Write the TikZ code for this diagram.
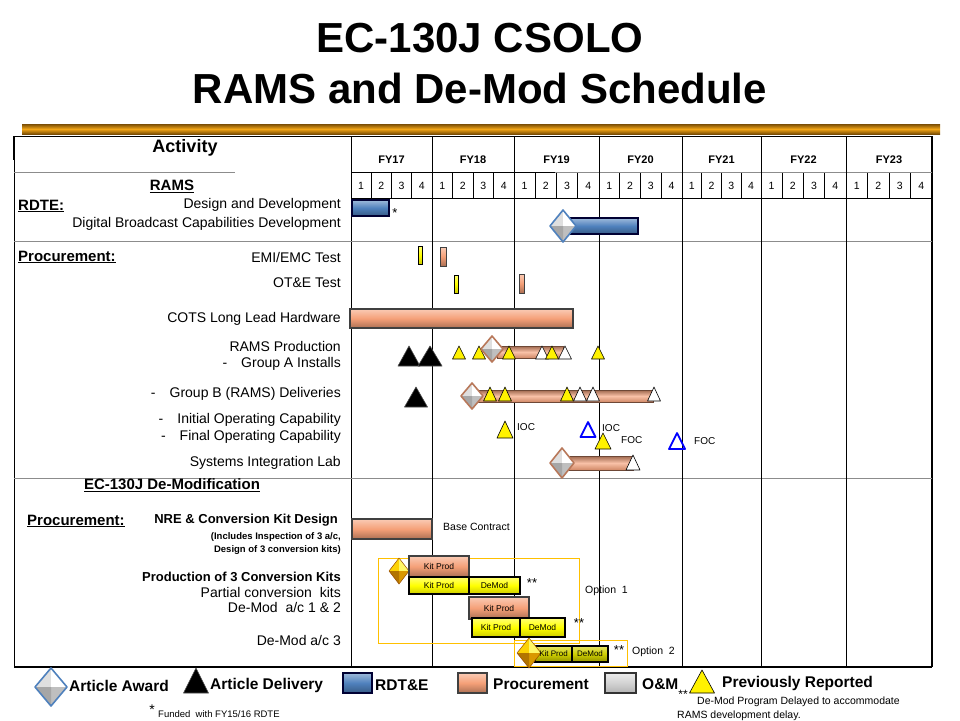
\documentclass[tikz,border=0pt]{standalone}
\usepackage{fontspec}
\setmainfont{Liberation Sans}
\usepackage{xcolor}
\definecolor{rdtblue}{HTML}{4F81BD}
\definecolor{procorange}{HTML}{F5A078}
\definecolor{bandgold}{HTML}{F2A516}
\definecolor{bandedge}{HTML}{7A4E06}
\definecolor{optgold}{HTML}{FFC000}
\definecolor{demodolive}{HTML}{CFCF00}
\newcommand{\fsz}[1]{\fontsize{#1}{#1}\selectfont}
% triangle marker: style, x, base y, width, height
\newcommand{\mktri}[5]{\draw[#1, line join=round] ({#2-#4/2},#3) -- (#2,{#3-#5}) -- ({#2+#4/2},#3) -- cycle;}
% award diamond: x, y, half width, half height, outline colour
\newcommand{\mkaward}[5]{%
  \fill[gray!25] ({#1-#3},#2) -- (#1,{#2-#4}) -- (#1,#2) -- cycle;
  \fill[white] (#1,{#2-#4}) -- ({#1+#3},#2) -- (#1,#2) -- cycle;
  \fill[gray!50] ({#1+#3},#2) -- (#1,{#2+#4}) -- (#1,#2) -- cycle;
  \fill[gray!70] (#1,{#2+#4}) -- ({#1-#3},#2) -- (#1,#2) -- cycle;
  \draw[#5, line width=1.6pt, line join=round] ({#1-#3},#2) -- (#1,{#2-#4}) -- ({#1+#3},#2) -- (#1,{#2+#4}) -- cycle;}
% option award diamond in gold
\newcommand{\mkgold}[4]{%
  \fill[yellow!70!orange] ({#1-#3},#2) -- (#1,{#2-#4}) -- (#1,#2) -- cycle;
  \fill[yellow!60!white] (#1,{#2-#4}) -- ({#1+#3},#2) -- (#1,#2) -- cycle;
  \fill[orange!60!yellow!85!black] ({#1+#3},#2) -- (#1,{#2+#4}) -- (#1,#2) -- cycle;
  \fill[orange!70!yellow!70!black] (#1,{#2+#4}) -- ({#1-#3},#2) -- (#1,#2) -- cycle;
  \draw[orange!60!black, line width=0.5pt, line join=round] ({#1-#3},#2) -- (#1,{#2-#4}) -- ({#1+#3},#2) -- (#1,{#2+#4}) -- cycle;}
\tikzset{
  act/.style={anchor=east, inner sep=0pt, font=\fsz{14}},
  hd/.style={inner sep=0pt, font=\fsz{15}\bfseries},
  yr/.style={inner sep=0pt, font=\fsz{11}\bfseries},
  qtr/.style={inner sep=0pt, font=\fsz{10.5}},
  mlbl/.style={inner sep=0pt, anchor=west, font=\fsz{10}},
  kit/.style={inner sep=0pt, font=\fsz{8.5}},
  lgd/.style={inner sep=0pt, anchor=west, font=\fsz{15.5}\bfseries},
  grid/.style={line width=0.9pt, black},
  softgrid/.style={line width=1pt, black!45},
  blubar/.style={draw=black!80!blue, line width=1.1pt, top color=rdtblue!55!white, bottom color=rdtblue!70!black, middle color=rdtblue},
  orgbar/.style={draw=black!75, line width=1.1pt, top color=procorange!55!white, bottom color=procorange!70!black, middle color=procorange},
  cyl/.style={draw=procorange!45!black, line width=0.4pt, top color=procorange!65!black, bottom color=procorange!85!black, middle color=procorange!65!white},
  ylwbar/.style={draw=black, line width=1.1pt, top color=yellow!55!white, bottom color=yellow!80!black, middle color=yellow},
  olvbar/.style={draw=black, line width=1.1pt, top color=demodolive!60!white, bottom color=demodolive!70!black, middle color=demodolive},
  grybar/.style={draw=black!80, line width=1.1pt, top color=gray!15, bottom color=gray!60, middle color=gray!35},
  ptri/.style={fill=yellow, draw=black, line width=0.6pt},
  wtri/.style={fill=white, draw=black, line width=0.6pt},
  dtri/.style={fill=black, draw=black!70, line width=0.6pt},
  btri/.style={draw=blue, line width=1.8pt},
  optbox/.style={draw=optgold, line width=0.8pt},
}
\begin{document}
\begin{tikzpicture}[x=1pt, y=-1pt]
  \useasboundingbox (0,0) rectangle (960,720);
  % title and band
  \node[font=\fsz{42}\bfseries] (title1) at (480,38) {EC-130J CSOLO};
  \node[font=\fsz{42}\bfseries] (title2) at (480,88) {RAMS and De-Mod Schedule};
  \shade[top color=bandedge, bottom color=bandedge, middle color=bandgold] (22,124) rectangle (940,134);

  % table frame
  \draw[grid] (14,136) -- (932,136);
  \draw[grid] (14,136) -- (14,667);
  \draw[line width=2pt] (14,136) -- (14,160);
  \draw[grid] (351,136) -- (351,667);
  \draw[line width=1.6pt] (932,136) -- (932,667);
  \draw[line width=1.2pt] (14,667) -- (932,667);
  \draw[softgrid] (14,172) -- (235,172);
  \draw[grid] (351,172) -- (555,172);
  \draw[softgrid] (555,172) -- (932,172);
  \draw[grid] (351,198) -- (932,198);
  \draw[softgrid] (14,241) -- (932,241);
  \draw[softgrid] (14,478) -- (932,478);

  % fiscal years and quarters
  \node[font=\fsz{18}\bfseries] (activity) at (185,148) {Activity};
  \foreach \xa/\xb/\yr in {351/432/17,432/514/18,514/599/19,599/682/20,682/761/21,761/846/22,846/932/23} {
    \node[yr] (fy\yr) at ({(\xa+\xb)/2},160) {FY\yr};
    \foreach \q in {1,...,4}
      \node[qtr] (q\yr\q) at ({\xa+(\q-0.5)*(\xb-\xa)/4},186) {\q};
    \foreach \q in {1,2,3}
      \draw[grid] ({\xa+\q*(\xb-\xa)/4},173) -- ({\xa+\q*(\xb-\xa)/4},198);
  }
  \foreach \xb in {432,514,599,682,761,846}
    \draw[grid] (\xb,136) -- (\xb,667);

  % activity column
  \node[hd] (rams) at (172,186) {\underline{RAMS}};
  \node[hd, anchor=west] (rdte) at (18,206) {\underline{RDTE:}};
  \node[act] (design) at (341,205) {Design and Development};
  \node[act] (dbc) at (341,224) {Digital Broadcast Capabilities Development};
  \node[hd, anchor=west] (proc) at (18,257) {\underline{Procurement:}};
  \node[act] (emi) at (341,257) {EMI/EMC Test};
  \node[act] (ote) at (341,283) {OT\&E Test};
  \node[act] (cots) at (341,319) {COTS Long Lead Hardware};
  \node[act] (prod) at (341,346) {RAMS Production};
  \node[act] (grpa) at (341,364) {-\quad Group A Installs};
  \node[act] (grpb) at (341,394) {-\quad Group B (RAMS) Deliveries};
  \node[act] (ioc) at (341,420) {-\quad Initial Operating Capability};
  \node[act] (foc) at (341,437) {-\quad Final Operating Capability};
  \node[act] (sil) at (341,463) {Systems Integration Lab};
  \node[hd] (demod) at (172,485) {\underline{EC-130J De-Modification}};
  \node[hd, anchor=west] (proc2) at (27,521) {\underline{Procurement:}};
  \node[act, font=\fsz{13}\bfseries] (nre) at (338,520) {NRE \& Conversion Kit Design};
  \node[act, font=\fsz{9.5}\bfseries] (incl1) at (341,537) {(Includes Inspection of 3 a/c,};
  \node[act, font=\fsz{9.5}\bfseries] (incl2) at (341,550) {Design of 3 conversion kits)};
  \node[act, font=\fsz{13}\bfseries] (prodkits) at (341,577) {Production of 3 Conversion Kits};
  \node[act] (partial) at (341,592) {Partial conversion\ \ kits};
  \node[act] (dm12) at (341,607) {De-Mod\ \ a/c 1 \& 2};
  \node[act] (dm3) at (341,640) {De-Mod a/c 3};

  % RDTE
  \draw[blubar] (352,200) rectangle (389,216);
  \node[font=\fsz{13}] (star1) at (395,213) {*};
  \draw[blubar] (570,218) rectangle (638,234);
  \mkaward{563}{226}{13}{16}{rdtblue}

  % RAMS procurement
  \draw[ylwbar, line width=0.7pt] (418,246) rectangle (422.5,264);
  \draw[orgbar, line width=0.7pt] (440,247) rectangle (446,266);
  \draw[ylwbar, line width=0.7pt] (454,275) rectangle (458.5,293);
  \draw[orgbar, line width=0.7pt] (519,274) rectangle (524,293);
  \draw[orgbar] (350,309) rectangle (573,328);

  \mktri{dtri}{409}{366}{22}{20}
  \mktri{dtri}{430}{366}{24}{20}
  \draw[cyl] (497,346) rectangle (563,358);
  \mktri{ptri}{459}{359}{13}{13}
  \mktri{ptri}{479}{359}{13}{13}
  \mkaward{492}{349}{11}{13}{procorange!75!black}
  \mktri{ptri}{509}{359}{13}{13}
  \mktri{wtri}{542}{359}{13}{13}
  \mktri{ptri}{552}{359}{13}{13}
  \mktri{wtri}{565}{359}{13}{13}
  \mktri{ptri}{598}{359}{13}{13}

  \mktri{dtri}{416}{407}{23}{20}
  \draw[cyl] (473,390) rectangle (653,402);
  \mkaward{472}{396}{11}{13}{procorange!75!black}
  \mktri{ptri}{490}{401}{13}{14}
  \mktri{ptri}{505}{401}{13}{14}
  \mktri{ptri}{567}{401}{13}{14}
  \mktri{wtri}{580}{401}{13}{14}
  \mktri{wtri}{593}{401}{13}{14}
  \mktri{wtri}{654}{401}{13}{14}

  \mktri{ptri}{505}{438}{16}{17}
  \node[mlbl] (ioc1) at (517,427) {IOC};
  \mktri{btri}{588}{437}{15}{15}
  \mktri{ptri}{603}{449}{16}{16}
  \node[mlbl] (ioc2) at (602,428) {IOC};
  \node[mlbl] (foc1) at (621,440) {FOC};
  \mktri{btri}{677}{449}{16}{16}
  \node[mlbl] (foc2) at (694,441) {FOC};

  \draw[cyl] (563,456) rectangle (633,470);
  \mkaward{562}{463}{12}{15}{procorange!75!black}
  \mktri{wtri}{633}{470}{14}{15}

  % de-modification
  \draw[orgbar] (352,519) rectangle (432,539);
  \node[mlbl, font=\fsz{10.5}] (base) at (443,527) {Base Contract};

  \draw[optbox] (378,558) rectangle (579,643);
  \draw[optbox] (514,640) rectangle (627,666);
  \mkgold{399}{571}{10}{13}
  \draw[orgbar] (409,556) rectangle (469,577);
  \node[kit] (kp1) at (439,566.5) {Kit Prod};
  \draw[ylwbar] (409,577) rectangle (469,594);
  \draw[ylwbar] (469,577) rectangle (520,594);
  \node[kit] (kp2) at (439,585.5) {Kit Prod};
  \node[kit] (dm1) at (494.5,585.5) {DeMod};
  \node[font=\fsz{13}] (star2) at (532,583) {**};
  \node[mlbl, font=\fsz{10.5}] (opt1) at (585,591) {Option\ \ 1};
  \draw[orgbar] (469,597) rectangle (529,619);
  \node[kit] (kp3) at (499,608) {Kit Prod};
  \draw[ylwbar] (472,618) rectangle (520,637);
  \draw[ylwbar] (520,618) rectangle (565,637);
  \node[kit] (kp4) at (496,627.5) {Kit Prod};
  \node[kit] (dm2) at (542.5,627.5) {DeMod};
  \node[font=\fsz{13}] (star3) at (579,623) {**};
  \draw[olvbar] (535,646) rectangle (572,662);
  \draw[olvbar] (572,646) rectangle (608,662);
  \mkgold{529}{653}{12}{15}
  \node[kit, font=\fsz{8}] (kp5) at (553.5,654) {Kit Prod};
  \node[kit, font=\fsz{8}] (dm3bar) at (590,654) {DeMod};
  \node[font=\fsz{13}] (star4) at (619,650) {**};
  \node[mlbl, font=\fsz{10.5}] (opt2) at (632,652) {Option\ \ 2};

  % legend
  \mkaward{51}{687}{16}{19}{rdtblue}
  \node[lgd] (lgaward) at (69,686) {Article Award};
  \mktri{dtri}{196}{693}{25}{25}
  \node[lgd] (lgdeliv) at (210,685) {Article Delivery};
  \draw[blubar] (343,673) rectangle (372,693);
  \node[lgd] (lgrdte) at (375,685) {RDT\&E};
  \draw[orgbar] (458,673) rectangle (487,693);
  \node[lgd] (lgproc) at (493,684) {Procurement};
  \draw[grybar] (605,673) rectangle (636,693);
  \node[lgd] (lgom) at (642,684) {O\&M};
  \node[font=\fsz{12}, inner sep=0pt] (lgstar) at (683,694) {**};
  \mktri{ptri}{702}{693}{25}{23}
  \node[lgd] (lgprev) at (722,683) {Previously Reported};
  \node[mlbl, font=\fsz{10.5}] (lgnote1) at (697,702) {De-Mod Program Delayed to accommodate};
  \node[mlbl, font=\fsz{10.5}] (lgnote2) at (677,716) {RAMS development delay.};
  \node[font=\fsz{14}, inner sep=0pt] (fnstar) at (152,710) {*};
  \node[mlbl, font=\fsz{9.5}] (fnote) at (158,714) {Funded\ \ with FY15/16 RDTE};
\end{tikzpicture}
\end{document}
